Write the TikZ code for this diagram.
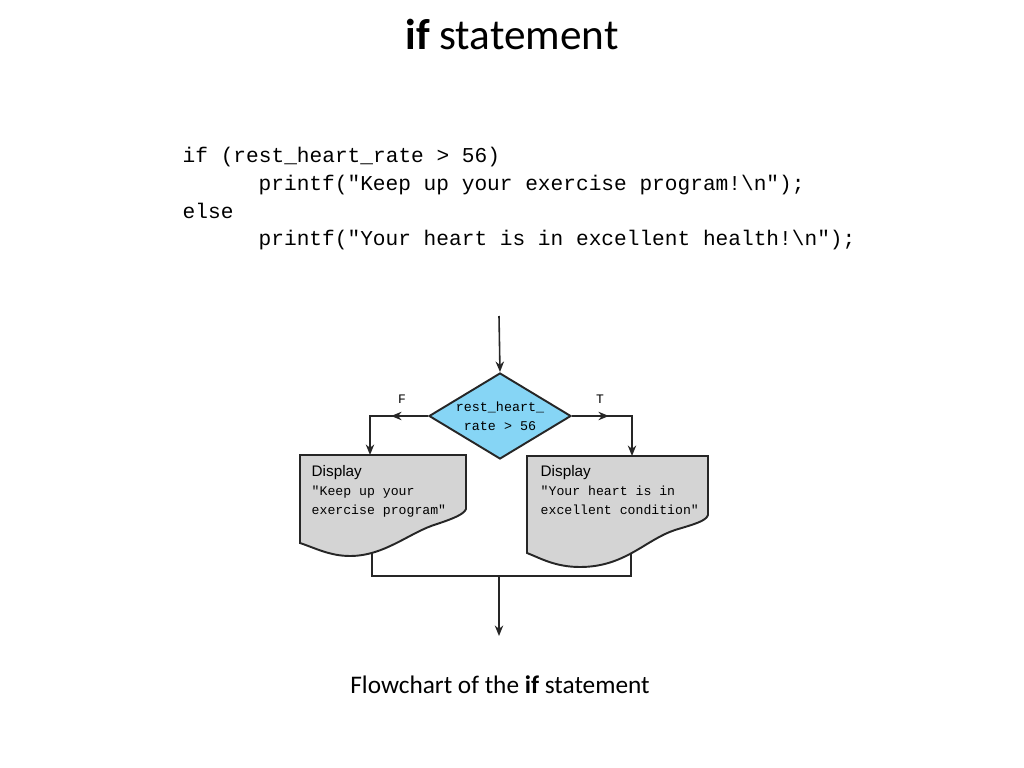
\documentclass[tikz,border=0pt]{standalone}
\usepackage{fontspec}
\setmainfont{Carlito}
\setsansfont{Liberation Sans}
\setmonofont{Liberation Mono}
\usetikzlibrary{arrows.meta, decorations.markings, calc, shapes.geometric, positioning}
\definecolor{decblue}{HTML}{86D5F5}
\definecolor{docgray}{HTML}{D4D4D4}

\begin{document}
\begin{tikzpicture}[
    flow/.style={line width=0.45pt, draw=black!85, -{Stealth[length=3pt,width=2.4pt]}},
    joinline/.style={line width=0.45pt, draw=black!85},
    midarrow/.style={postaction={decorate}, decoration={markings, mark=at position #1 with {\arrow{Stealth[length=3pt,width=2.4pt]}}}},
    decision/.style={diamond, draw=black!85, line width=0.55pt, fill=decblue, aspect=1.65, minimum width=1.42cm, minimum height=0.86cm, inner sep=0pt, align=center, font=\ttfamily\fontsize{3.8}{5.4}\selectfont},
    docbox/.style={draw=black!85, line width=0.55pt, fill=docgray},
    codeline/.style={anchor=base west, inner sep=0pt, font=\ttfamily\fontsize{6.02}{7.9}\selectfont},
    boxhead/.style={anchor=base west, inner sep=0pt, font=\sffamily\fontsize{4.35}{5}\selectfont},
    boxtext/.style={anchor=base west, inner sep=0pt, font=\ttfamily\fontsize{3.75}{5}\selectfont},
    branch/.style={inner sep=0pt, font=\ttfamily\fontsize{3.7}{5}\selectfont}
  ]
  \useasboundingbox (0,0) rectangle (10.24,-7.68);

  % title and caption
  \node (title) at (5.12,-0.34) {\fontsize{12.3}{14}\selectfont\textbf{if} statement};
  \node (caption) at (5.00,-6.85) {\fontsize{7.2}{9}\selectfont Flowchart of the \textbf{if} statement};

  % code
  \node[codeline] (code1) at (1.82,-1.62) {if (rest\_heart\_rate > 56)};
  \node[codeline] (code2) at (2.58,-1.90) {printf("Keep up your exercise program!\textbackslash n");};
  \node[codeline] (code3) at (1.82,-2.18) {else};
  \node[codeline] (code4) at (2.58,-2.45) {printf("Your heart is in excellent health!\textbackslash n");};

  % flowchart
  \coordinate (entry) at (4.99,-3.16);
  \coordinate (lcorner) at (3.70,-4.16);
  \coordinate (ltop) at (3.70,-4.55);
  \coordinate (rcorner) at (6.32,-4.16);
  \coordinate (rtop) at (6.32,-4.56);
  \coordinate (lstub) at (3.72,-5.40);
  \coordinate (rstub) at (6.31,-5.40);
  \coordinate (merge) at (4.99,-5.76);
  \coordinate (exit) at (4.99,-6.36);

  \node[decision] (dec) at (5.00,-4.16) {rest\_heart\_\\rate > 56};

  \draw[flow] (entry) -- (dec.north);
  \draw[flow, midarrow=0.37cm] (dec.west) -- (lcorner) -- (ltop);
  \draw[flow, midarrow=0.37cm] (dec.east) -- (rcorner) -- (rtop);
  \node[branch] (flabel) at (4.02,-3.99) {F};
  \node[branch] (tlabel) at (6.00,-3.99) {T};

  \draw[joinline] (lstub) |- (merge) -| (rstub);
  \draw[flow] (merge) -- (exit);

  \draw[docbox] (3.00,-4.55) -- (4.66,-4.55) -- (4.66,-5.09)
    .. controls (4.64,-5.14) and (4.55,-5.18) .. (4.37,-5.24)
    .. controls (4.10,-5.32) and (3.85,-5.56) .. (3.50,-5.56)
    .. controls (3.30,-5.56) and (3.15,-5.48) .. (3.00,-5.43) -- cycle;
  \draw[docbox] (5.27,-4.56) -- (7.08,-4.56) -- (7.08,-5.15)
    .. controls (7.06,-5.21) and (6.95,-5.24) .. (6.75,-5.30)
    .. controls (6.45,-5.40) and (6.25,-5.67) .. (5.80,-5.67)
    .. controls (5.55,-5.67) and (5.40,-5.58) .. (5.27,-5.53) -- cycle;

  \node[boxhead] (lhead) at (3.11,-4.76) {Display};
  \node[boxtext] (ltext1) at (3.11,-4.955) {"Keep up your};
  \node[boxtext] (ltext2) at (3.11,-5.14) {exercise program"};
  \node[boxhead] (rhead) at (5.40,-4.76) {Display};
  \node[boxtext] (rtext1) at (5.40,-4.955) {"Your heart is in};
  \node[boxtext] (rtext2) at (5.40,-5.14) {excellent condition"};
\end{tikzpicture}
\end{document}
